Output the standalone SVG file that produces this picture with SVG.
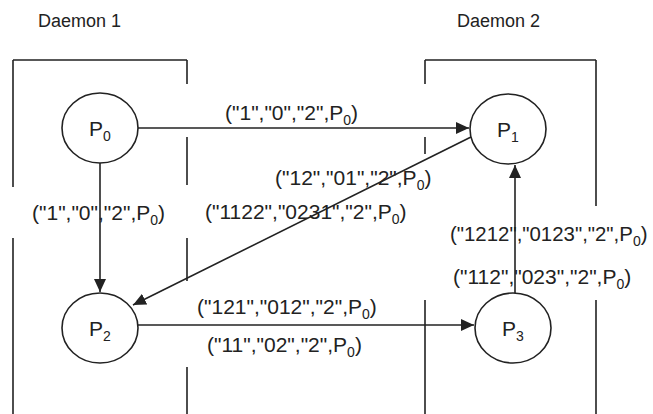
<svg xmlns="http://www.w3.org/2000/svg" width="653" height="414" viewBox="0 0 653 414">
<style>
  .bg { fill: #ffffff; }
  .box { stroke: #222; stroke-width: 1.6; fill: none; }
  .node { stroke: #222; stroke-width: 1.6; fill: #ffffff; }
  .edge { stroke: #222; stroke-width: 1.6; fill: none; }
  .t { font-family: "Liberation Sans", Arial, sans-serif; font-size: 21px; fill: #222; }
  .d { font-family: "Liberation Sans", Arial, sans-serif; font-size: 18px; fill: #222; }
  .s { font-size: 14px; }
</style>
<defs>
  <marker id="ah" markerWidth="14" markerHeight="12" refX="13" refY="6" orient="auto" markerUnits="userSpaceOnUse">
    <path d="M0,0 L13,6 L0,12 z" fill="#222"/>
  </marker>
</defs>
<rect class="bg" x="0" y="0" width="653" height="414"/>

<g id="daemon1">
  <text class="d" x="38" y="27">Daemon 1</text>
  <path class="box" d="M13,60 H187 M13,60 V187 M13,238 V414 M187,60 V84 M187,137 V185 M187,238 V281 M187,367 V414"/>
</g>
<g id="daemon2">
  <text class="d" x="457" y="27">Daemon 2</text>
  <path class="box" d="M425,60 H596 M425,60 V84 M425,137 V154 M425,300 V414 M596,60 V206 M596,300 V414"/>
</g>

<g id="labels">
  <text class="t" x="225" y="120">("1","0","2",P<tspan class="s" dy="5">0</tspan><tspan dy="-5">)</tspan></text>
  <text class="t" x="275" y="185">("12","01","2",P<tspan class="s" dy="5">0</tspan><tspan dy="-5">)</tspan></text>
  <text class="t" x="205" y="219">("1122","0231","2",P<tspan class="s" dy="5">0</tspan><tspan dy="-5">)</tspan></text>
  <text class="t" x="32" y="220">("1","0","2",P<tspan class="s" dy="5">0</tspan><tspan dy="-5">)</tspan></text>
  <text class="t" x="450" y="241" style="font-size:20.4px">("1212","0123","2",P<tspan class="s" dy="5">0</tspan><tspan dy="-5">)</tspan></text>
  <text class="t" x="453" y="284">("112","023","2",P<tspan class="s" dy="5">0</tspan><tspan dy="-5">)</tspan></text>
  <text class="t" x="197" y="314">("121","012","2",P<tspan class="s" dy="5">0</tspan><tspan dy="-5">)</tspan></text>
  <text class="t" x="207" y="352">("11","02","2",P<tspan class="s" dy="5">0</tspan><tspan dy="-5">)</tspan></text>
</g>

<g id="connectors">
  <line class="edge" x1="138" y1="128" x2="469" y2="128" marker-end="url(#ah)"/>
  <line class="edge" x1="471" y1="137" x2="133" y2="305" marker-end="url(#ah)"/>
  <line class="edge" x1="100" y1="163" x2="100" y2="292" marker-end="url(#ah)"/>
  <line class="edge" x1="138" y1="325" x2="474" y2="325" marker-end="url(#ah)"/>
  <line class="edge" x1="515" y1="293" x2="515" y2="165" marker-end="url(#ah)"/>
</g>

<g id="P0">
  <ellipse class="node" cx="100" cy="128" rx="38" ry="35"/>
  <text class="t" x="100" y="136" text-anchor="middle">P<tspan class="s" dy="5">0</tspan></text>
</g>
<g id="P1">
  <ellipse class="node" cx="508" cy="129" rx="38" ry="35"/>
  <text class="t" x="508" y="137" text-anchor="middle">P<tspan class="s" dy="5">1</tspan></text>
</g>
<g id="P2">
  <ellipse class="node" cx="100" cy="328" rx="38" ry="35"/>
  <text class="t" x="100" y="336" text-anchor="middle">P<tspan class="s" dy="5">2</tspan></text>
</g>
<g id="P3">
  <ellipse class="node" cx="513" cy="328" rx="38" ry="35"/>
  <text class="t" x="513" y="336" text-anchor="middle">P<tspan class="s" dy="5">3</tspan></text>
</g>
</svg>
